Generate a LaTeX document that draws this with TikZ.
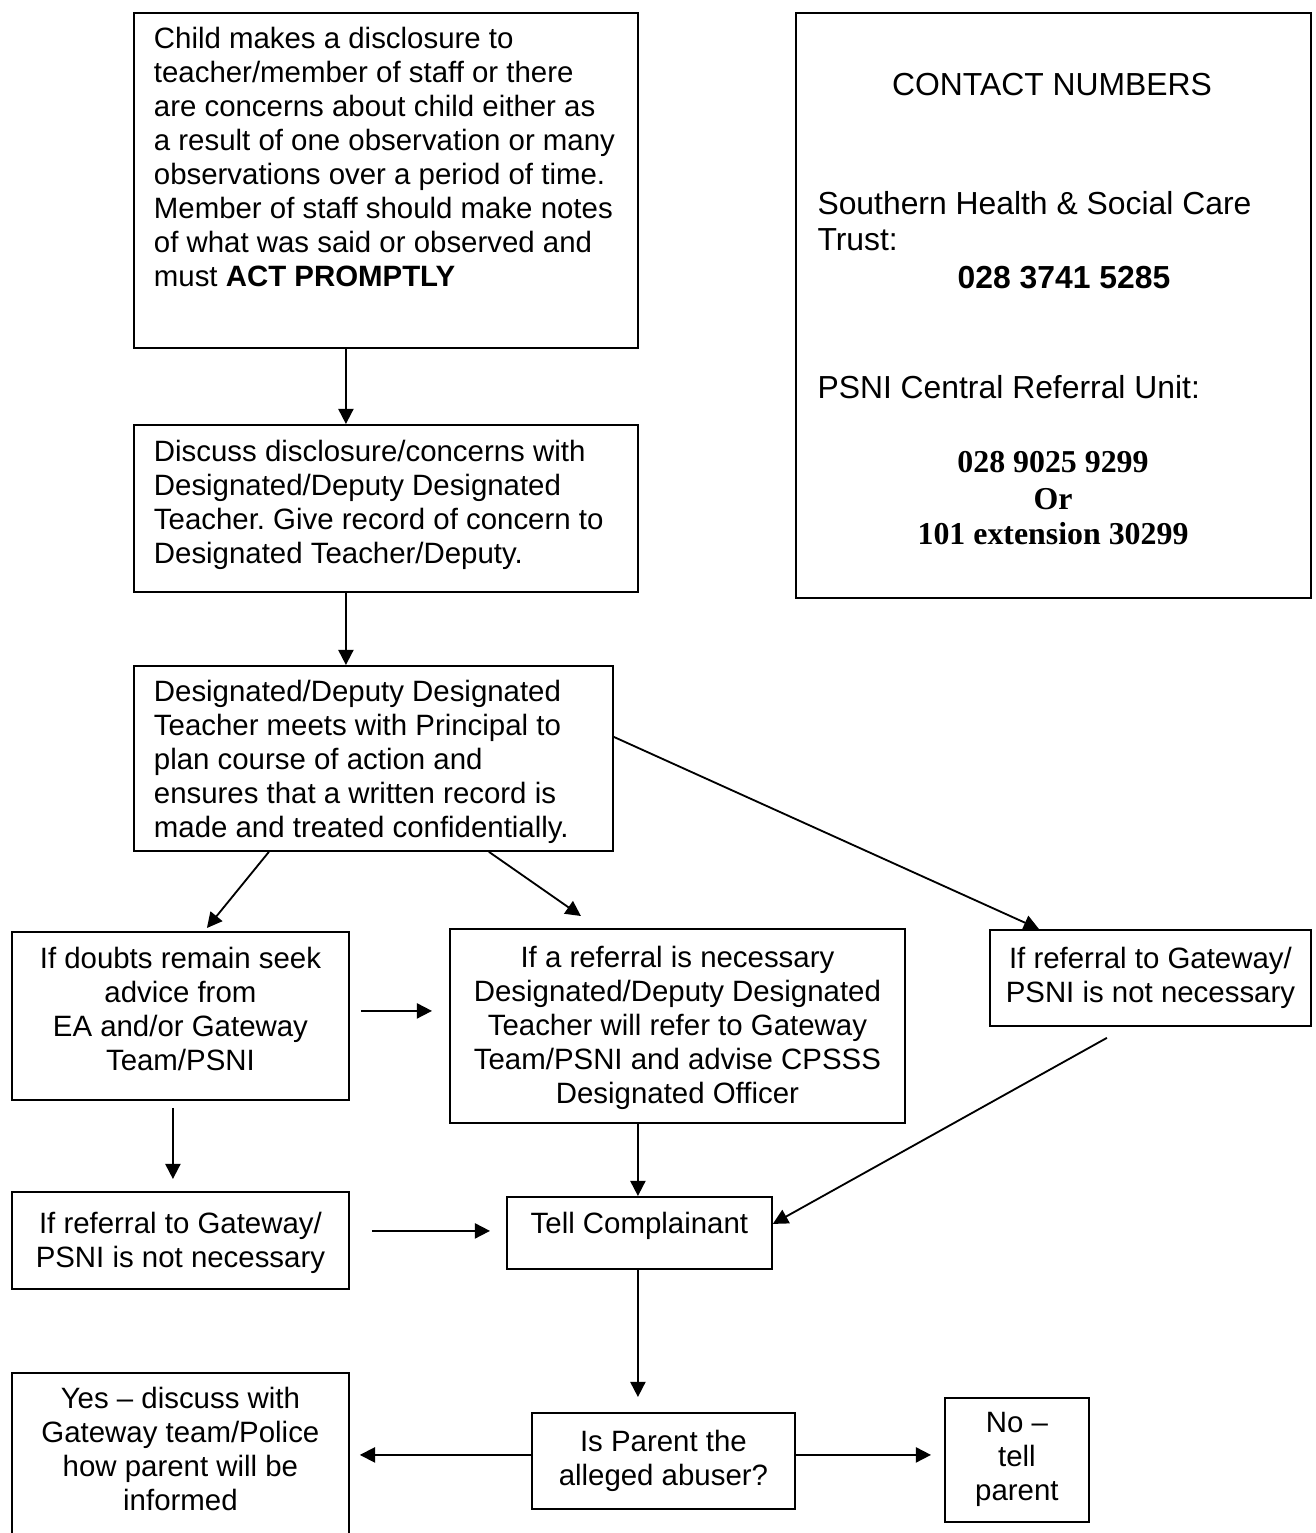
\documentclass[tikz,border=0pt]{standalone}
\usepackage{fontspec}
\setmainfont{Liberation Sans}
\newfontfamily\serifnum{Liberation Serif}
\usetikzlibrary{arrows.meta}
\frenchspacing

% one drawing unit
\newlength\pxu
\setlength\pxu{0.408pt}
\newcommand\fs{\fontsize{12}{13.87}\selectfont}
\newcommand\fsc{\fontsize{13}{15}\selectfont}
% box contents: width, height, text (first line raised by a strut)
\newcommand\btxt[3]{\parbox[c][#2\pxu][t]{#1\pxu}{\fs #3}}
\newcommand\lead[1]{\rule{0pt}{#1\pxu}}

\tikzset{
  box/.style={draw, line width=0.75pt, inner sep=0pt, anchor=north west},
  arr/.style={-{Triangle[length=6.2pt,width=6.2pt]}, line width=0.75pt},
  ctext/.style={inner sep=0pt, font=\fsc}
}

\begin{document}
\begin{tikzpicture}[x=0.408pt, y=-0.408pt]
\useasboundingbox (0,0) rectangle (1315,1533);
\clip (0,0) rectangle (1315,1533);

% --- main column ---
\node[box] (b1) at (133,12) {\btxt{504}{335}{\raggedright\leftskip=20\pxu
  \lead{36}Child makes a disclosure to\\
  teacher/member of staff or there\\
  are concerns about child either as\\
  a result of one observation or many\\
  observations over a period of time.\\
  Member of staff should make notes\\
  of what was said or observed and\\
  must \textbf{ACT PROMPTLY}\par}};

\node[box] (b2) at (133,424) {\btxt{504}{167}{\raggedright\leftskip=20\pxu
  \lead{37}Discuss disclosure/concerns with\\
  Designated/Deputy Designated\\
  Teacher. Give record of concern to\\
  Designated Teacher/Deputy.\par}};

\node[box] (b3) at (133,665) {\btxt{479}{185}{\raggedright\leftskip=20\pxu
  \lead{36}Designated/Deputy Designated\\
  Teacher meets with Principal to\\
  plan course of action and\\
  ensures that a written record is\\
  made and treated confidentially.\par}};

% --- contact panel ---
\node[box, minimum width=515\pxu, minimum height=585\pxu] (contact) at (795,12) {};
\node[ctext, anchor=base] (cTitle) at (1052,96) {CONTACT NUMBERS};
\node[ctext, anchor=base west] (cTrust) at (817,215) {Southern Health \& Social Care};
\node[ctext, anchor=base west] (cTrust2) at (817,251) {Trust:};
\node[ctext, anchor=base] (cTrustNo) at (1064,289) {\bfseries 028 3741 5285};
\node[ctext, anchor=base west] (cPolice) at (817,399) {PSNI Central Referral Unit:};
\node[ctext, anchor=base] (cPoliceNo) at (1053,473) {\serifnum\bfseries 028 9025 9299};
\node[ctext, anchor=base] (cOr) at (1053,510) {\serifnum\bfseries Or};
\node[ctext, anchor=base] (cExt) at (1053,545) {\serifnum\bfseries 101 extension 30299};

% --- second tier ---
\node[box] (l1) at (11,931) {\btxt{337}{168}{\centering
  \lead{37}If doubts remain seek\\advice from\\EA and/or Gateway\\Team/PSNI\par}};

\node[box] (m1) at (449,928) {\btxt{455}{194}{\centering
  \lead{39}If a referral is necessary\\
  Designated/Deputy Designated\\
  Teacher will refer to Gateway\\
  Team/PSNI and advise CPSSS\\
  Designated Officer\par}};

\node[box] (r1) at (989,929) {\btxt{321}{96}{\centering
  \lead{39}If referral to Gateway/\\PSNI is not necessary\par}};

\node[box] (l2) at (11,1191) {\btxt{337}{97}{\centering
  \lead{42}If referral to Gateway/\\PSNI is not necessary\par}};

\node[box] (tell) at (506,1196) {\btxt{265}{72}{\centering
  \lead{37}Tell Complainant\par}};

% --- bottom row ---
\node[box] (yes) at (11,1372) {\btxt{337}{188}{\centering
  \lead{36}Yes -- discuss with\\Gateway team/Police\\how parent will be\\informed\par}};

\node[box] (parent) at (531,1412) {\btxt{263}{96}{\centering
  \lead{39}Is Parent the\\alleged abuser?\par}};

\node[box] (no) at (944,1397) {\btxt{144}{124}{\centering
  \lead{35}No --\\tell\\parent\par}};

% --- connectors ---
\draw[arr] ([xshift=-40\pxu]b1.south) -- ([xshift=-40\pxu]b2.north);
\draw[arr] ([xshift=-40\pxu]b2.south) -- ([xshift=-27.5\pxu]b3.north);
\draw[arr] ([xshift=-104.5\pxu]b3.south) -- ([xshift=26.5\pxu,yshift=3\pxu]l1.north);
\draw[arr] ([xshift=115.5\pxu]b3.south) -- ([xshift=-96.5\pxu,yshift=12\pxu]m1.north);
\draw[arr] ([yshift=21.5\pxu]b3.east) -- ([xshift=-111.5\pxu]r1.north);
\draw[arr] ([xshift=11\pxu,yshift=5\pxu]l1.east) -- ([xshift=-17\pxu,yshift=15\pxu]m1.west);
\draw[arr] ([xshift=-7.5\pxu,yshift=-7\pxu]l1.south) -- ([xshift=-7.5\pxu,yshift=12\pxu]l2.north);
\draw[arr] ([xshift=22\pxu,yshift=9.5\pxu]l2.east) -- ([xshift=-16\pxu,yshift=2\pxu]tell.west);
\draw[arr] ([xshift=-39.5\pxu]m1.south) -- ([xshift=-1.5\pxu]tell.north);
\draw[arr] ([xshift=-43.5\pxu,yshift=-11\pxu]r1.south) -- ([yshift=9\pxu]tell.east);
\draw[arr] ([xshift=-1.5\pxu]tell.south) -- ([xshift=-25.5\pxu,yshift=15\pxu]parent.north);
\draw[arr] ([yshift=6\pxu]parent.west) -- ([xshift=10\pxu,yshift=12\pxu]yes.east);
\draw[arr] ([yshift=6\pxu]parent.east) -- ([xshift=-13\pxu,yshift=5\pxu]no.west);
\end{tikzpicture}
\end{document}
